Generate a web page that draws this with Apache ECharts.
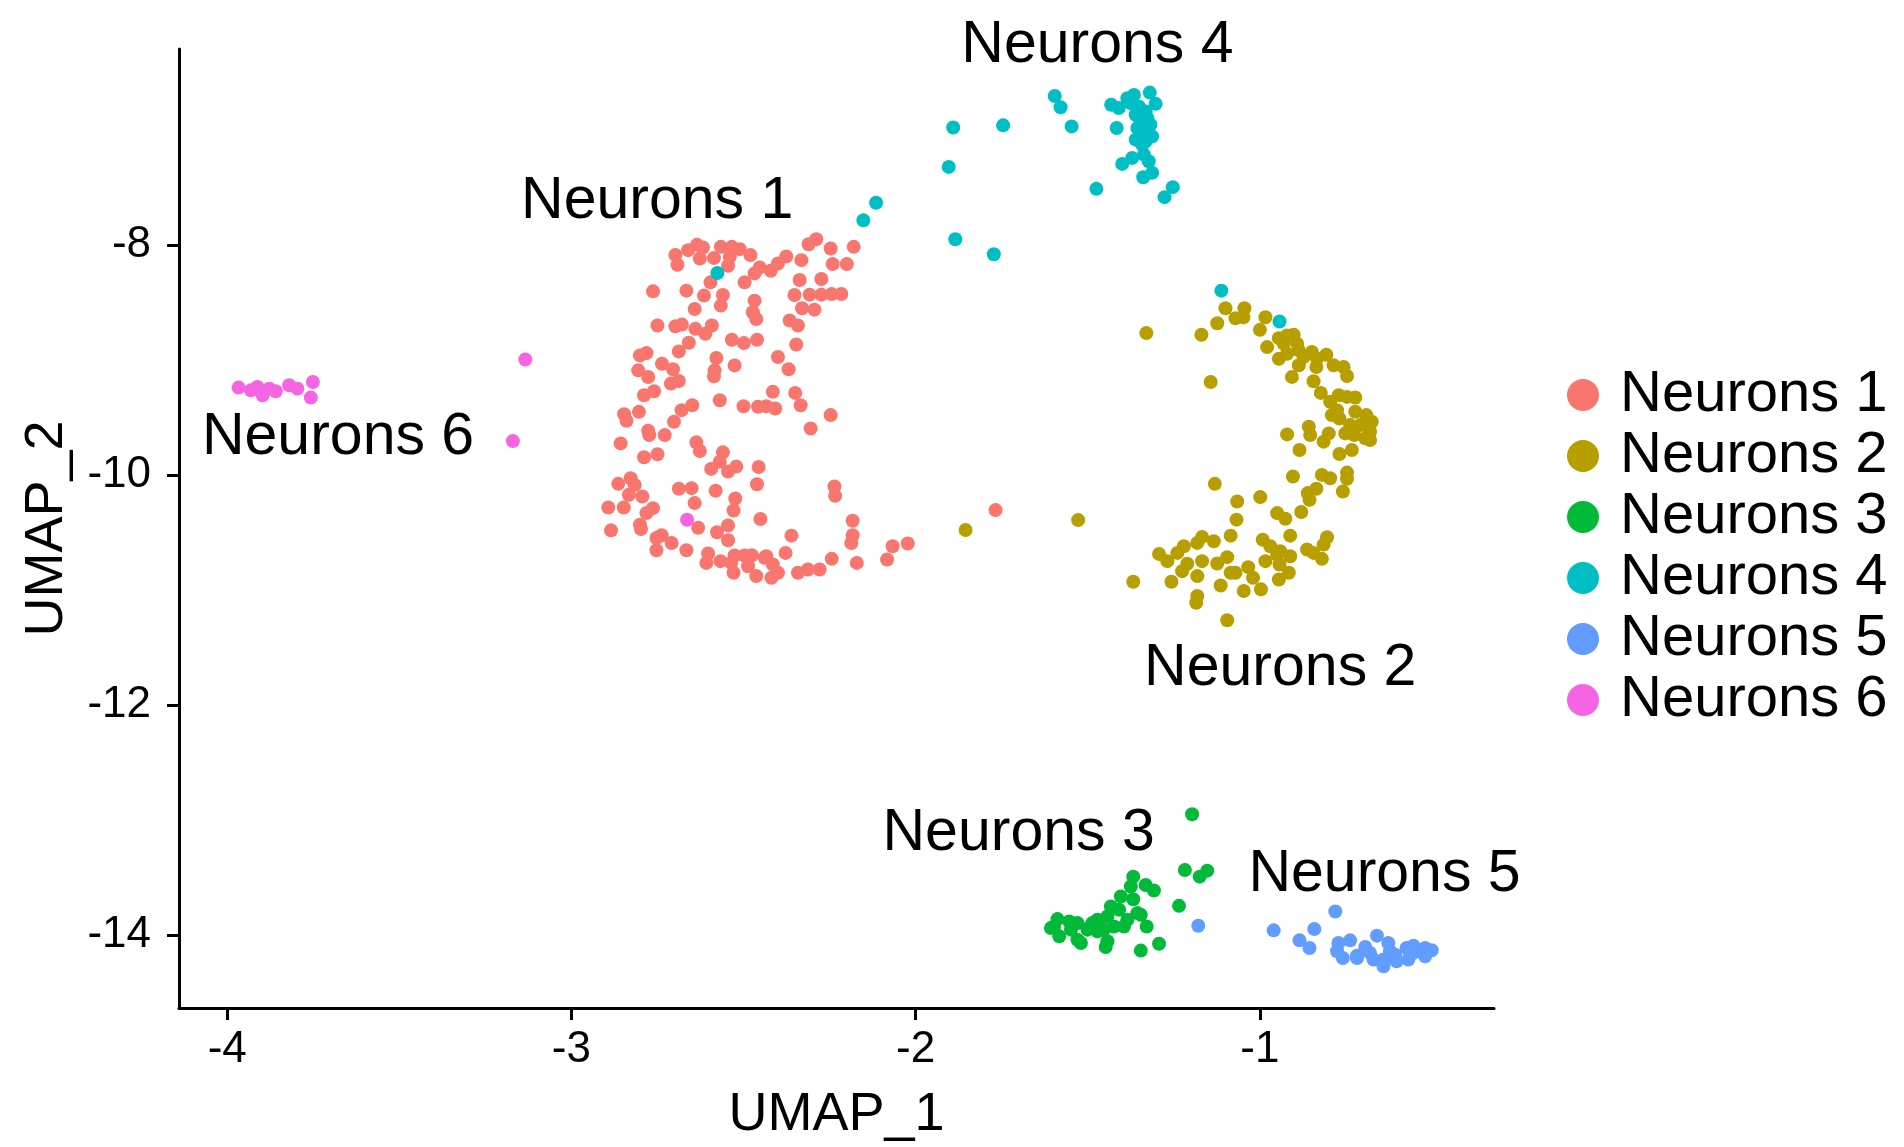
<!DOCTYPE html>
<html>
<head>
<meta charset="utf-8">
<script src="https://cdn.jsdelivr.net/npm/echarts@6/dist/echarts.min.js"></script>
<style>
  html, body { margin: 0; padding: 0; background: #ffffff; }
  #main { width: 1904px; height: 1147px; }
</style>
</head>
<body>
<div id="main"></div>
<script>
// Cluster names and ggplot-style hue palette
const clusterNames = ['Neurons 1', 'Neurons 2', 'Neurons 3', 'Neurons 4', 'Neurons 5', 'Neurons 6'];
const clusterColors = ['#F8766D', '#B79F00', '#00BA38', '#00BFC4', '#619CFF', '#F564E3'];

// UMAP embedding per cluster: [UMAP_1, UMAP_2]
const neurons1 = [
  [-2.698,-8.084],[-2.692,-8.170],[-2.661,-8.043],[-2.635,-7.997],[-2.618,-8.020],[-2.627,-8.115],[-2.586,-8.112],[-2.566,-8.014],
  [-2.534,-8.014],[-2.511,-8.034],[-2.540,-8.101],[-2.545,-8.179],[-2.480,-8.086],[-2.497,-8.323],[-2.468,-8.245],[-2.453,-8.193],
  [-2.596,-8.323],[-2.560,-8.433],[-2.566,-8.525],[-2.615,-8.438],[-2.642,-8.554],[-2.666,-8.395],[-2.763,-8.401],[-2.750,-8.698],
  [-2.698,-8.704],[-2.679,-8.690],[-2.640,-8.727],[-2.611,-8.770],[-2.592,-8.698],[-2.659,-8.848],[-2.688,-8.923],[-2.534,-8.822],
  [-2.499,-8.851],[-2.461,-8.822],[-2.468,-8.482],[-2.473,-8.583],[-2.463,-8.641],[-2.801,-8.958],[-2.782,-8.938],[-2.806,-9.088],
  [-2.777,-9.146],[-2.737,-9.030],[-2.705,-9.079],[-2.711,-9.203],[-2.688,-9.180],[-2.579,-8.981],[-2.526,-9.045],[-2.584,-9.088],
  [-2.586,-9.140],[-2.789,-9.304],[-2.760,-9.270],[-2.847,-9.469],[-2.840,-9.527],[-2.804,-9.449],[-2.702,-9.535],[-2.680,-9.434],
  [-2.649,-9.391],[-2.569,-9.348],[-2.500,-9.400],[-2.458,-9.405],[-2.434,-9.400],[-2.777,-9.613],[-2.774,-9.651],[-2.729,-9.651],
  [-2.857,-9.723],[-2.637,-9.714],[-2.627,-9.789],[-2.789,-9.844],[-2.750,-9.818],[-2.560,-9.801],[-2.569,-9.882],[-2.594,-9.945],
  [-2.545,-9.968],[-2.521,-9.925],[-2.456,-9.928],[-2.864,-10.075],[-2.828,-10.026],[-2.816,-10.084],[-2.833,-10.170],[-2.794,-10.185],
  [-2.688,-10.118],[-2.651,-10.112],[-2.581,-10.135],[-2.461,-10.078],[-2.642,-10.242],[-2.524,-10.202],[-2.529,-10.306],[-2.893,-10.280],
  [-2.848,-10.280],[-2.782,-10.329],[-2.763,-10.286],[-2.801,-10.430],[-2.798,-10.467],[-2.885,-10.479],[-2.632,-10.456],[-2.577,-10.496],
  [-2.545,-10.436],[-2.545,-10.565],[-2.451,-10.381],[-2.753,-10.545],[-2.738,-10.522],[-2.709,-10.589],[-2.753,-10.652],[-2.666,-10.652],
  [-2.603,-10.681],[-2.608,-10.762],[-2.567,-10.747],[-2.536,-10.762],[-2.526,-10.698],[-2.497,-10.698],[-2.476,-10.695],[-2.529,-10.848],
  [-2.487,-10.791],[-2.463,-10.877],[-2.439,-10.718],
  [-2.311,-7.991],[-2.289,-7.948],[-2.247,-8.029],[-2.180,-8.014],[-2.332,-8.130],[-2.376,-8.098],[-2.400,-8.159],[-2.421,-8.222],
  [-2.241,-8.164],[-2.200,-8.164],[-2.337,-8.303],[-2.274,-8.294],[-2.352,-8.433],[-2.308,-8.430],[-2.274,-8.430],[-2.244,-8.424],
  [-2.216,-8.424],[-2.330,-8.548],[-2.294,-8.560],[-2.366,-8.655],[-2.342,-8.698],[-2.347,-8.863],[-2.400,-8.972],[-2.369,-9.079],
  [-2.415,-9.275],[-2.350,-9.284],[-2.334,-9.391],[-2.408,-9.420],[-2.247,-9.477],[-2.305,-9.593],[-2.236,-10.098],[-2.234,-10.179],
  [-2.183,-10.395],[-2.183,-10.522],[-2.187,-10.589],[-2.361,-10.525],[-2.378,-10.675],[-2.434,-10.704],[-2.415,-10.776],[-2.400,-10.848],
  [-2.419,-10.892],[-2.342,-10.848],[-2.313,-10.819],[-2.279,-10.819],[-2.244,-10.727],[-2.171,-10.762],[-2.083,-10.733],[-2.067,-10.617],
  [-2.023,-10.594],[-1.768,-10.303]
];

const neurons2 = [
  [-1.100,-8.548],[-1.045,-8.548],[-1.071,-8.635],[-1.048,-8.626],[-1.124,-8.678],[-0.984,-8.626],[-1.000,-8.736],[-1.170,-8.779],
  [-1.330,-8.764],[-0.979,-8.886],[-0.945,-8.808],[-0.921,-8.785],[-0.902,-8.779],[-0.931,-8.857],[-0.892,-8.857],[-0.945,-8.987],
  [-0.921,-8.943],[-0.887,-8.914],[-0.873,-8.972],[-0.849,-8.929],[-0.834,-8.987],[-0.807,-8.952],[-0.887,-9.044],[-0.836,-9.059],
  [-0.786,-9.044],[-0.757,-9.059],[-0.747,-9.137],[-0.907,-9.145],[-0.844,-9.183],[-1.143,-9.189],[-0.823,-9.284],[-0.796,-9.362],
  [-0.771,-9.304],[-0.747,-9.319],[-0.723,-9.324],[-0.776,-9.434],[-0.791,-9.477],[-0.769,-9.506],[-0.723,-9.448],[-0.691,-9.477],
  [-0.675,-9.535],[-0.738,-9.564],[-0.709,-9.564],[-0.680,-9.622],[-0.694,-9.679],[-0.752,-9.636],[-0.726,-9.650],[-0.733,-9.780],
  [-0.769,-9.815],[-0.858,-9.578],[-0.854,-9.650],[-0.815,-9.708],[-0.800,-9.636],[-0.921,-9.645],[-0.885,-9.780],[-0.680,-9.694],
  [-0.904,-10.011],[-0.820,-9.997],[-0.796,-10.026],[-0.747,-9.977],[-0.747,-10.031],[-0.759,-10.141],[-0.861,-10.155],[-0.836,-10.118],
  [-0.856,-10.213],[-1.131,-10.075],[-1.066,-10.228],[-0.999,-10.190],[-0.880,-10.320],[-0.950,-10.329],[-0.926,-10.378],[-1.068,-10.386],
  [-1.085,-10.525],[-0.912,-10.525],[-0.992,-10.560],[-0.970,-10.617],[-0.941,-10.661],[-0.805,-10.539],[-0.815,-10.603],[-0.863,-10.646],
  [-0.844,-10.675],[-0.820,-10.727],[-0.912,-10.704],[-0.950,-10.689],[-0.984,-10.747],[-0.943,-10.776],[-1.095,-10.712],[-1.124,-10.767],
  [-1.168,-10.536],[-1.182,-10.588],[-1.134,-10.574],[-1.221,-10.617],[-1.240,-10.675],[-1.293,-10.684],[-1.269,-10.747],[-1.211,-10.770],
  [-1.168,-10.747],[-1.226,-10.834],[-1.182,-10.877],[-1.257,-10.926],[-1.368,-10.926],[-1.114,-10.958],[-1.085,-10.848],[-1.071,-10.848],
  [-1.034,-10.799],[-1.020,-10.891],[-1.047,-11.007],[-0.997,-10.992],[-0.945,-10.906],[-0.916,-10.848],[-1.182,-11.050],[-1.185,-11.108],
  [-1.095,-11.261],[-1.855,-10.476],[-1.528,-10.390]
];

const neurons3 = [
  [-1.197,-12.947],[-1.218,-13.432],[-1.175,-13.490],[-1.153,-13.438],[-1.235,-13.744],[-1.368,-13.490],[-1.375,-13.576],[-1.332,-13.562],
  [-1.308,-13.611],[-1.404,-13.663],[-1.368,-13.686],[-1.433,-13.749],[-1.409,-13.778],[-1.356,-13.807],[-1.346,-13.822],[-1.329,-13.923],
  [-1.293,-14.073],[-1.346,-14.133],[-1.443,-14.052],[-1.448,-14.101],[-1.424,-13.923],[-1.472,-13.966],[-1.501,-13.951],[-1.530,-13.894],
  [-1.554,-13.879],[-1.588,-13.859],[-1.598,-13.923],[-1.583,-14.009],[-1.530,-14.038],[-1.520,-14.067],[-1.496,-13.937],[-1.472,-13.865],
  [-1.443,-13.836],[-1.385,-13.865],[-1.395,-13.923],[-1.607,-13.937],[-1.549,-13.951],[-1.453,-13.951],[-1.487,-13.894]
];

const neurons4 = [
  [-1.596,-6.702],[-1.579,-6.800],[-1.547,-6.967],[-1.416,-6.981],[-1.432,-6.779],[-1.410,-6.808],[-1.385,-6.722],[-1.366,-6.693],
  [-1.320,-6.673],[-1.303,-6.771],[-1.332,-6.837],[-1.361,-6.866],[-1.356,-6.981],[-1.318,-6.953],[-1.337,-7.025],[-1.313,-7.054],
  [-1.361,-7.082],[-1.342,-7.126],[-1.337,-7.212],[-1.371,-7.241],[-1.400,-7.293],[-1.323,-7.270],[-1.313,-7.371],[-1.339,-7.409],
  [-1.475,-7.510],[-1.253,-7.495],[-1.277,-7.582],[-1.376,-6.765],[-1.352,-6.794],[-1.327,-6.895],[-1.347,-6.938],[-1.332,-7.097],
  [-1.891,-6.976],[-1.746,-6.958],[-1.904,-7.319],[-2.115,-7.631],[-2.152,-7.784],[-1.885,-7.948],[-1.773,-8.078],
  [-2.576,-8.242],[-1.112,-8.395],[-0.943,-8.663]
];

const neurons5 = [
  [-1.179,-13.917],[-0.781,-13.793],[-0.960,-13.957],[-0.842,-13.946],[-0.885,-14.044],[-0.856,-14.110],[-0.772,-14.067],[-0.738,-14.044],
  [-0.776,-14.139],[-0.759,-14.197],[-0.718,-14.177],[-0.694,-14.101],[-0.660,-14.003],[-0.627,-14.067],[-0.680,-14.153],[-0.641,-14.211],
  [-0.607,-14.168],[-0.574,-14.110],[-0.554,-14.090],[-0.520,-14.110],[-0.501,-14.130],[-0.520,-14.182],[-0.569,-14.211],[-0.603,-14.226],
  [-0.641,-14.269],[-0.670,-14.211],[-0.718,-14.197],[-0.554,-14.153],[-0.622,-14.139]
];

const neurons6 = [
  [-3.967,-9.238],[-3.931,-9.261],[-3.912,-9.232],[-3.897,-9.305],[-3.878,-9.247],[-3.859,-9.270],[-3.820,-9.218],[-3.796,-9.247],
  [-3.751,-9.189],[-3.757,-9.325],[-3.134,-8.993],[-3.170,-9.703],[-2.664,-10.387]
];

// Where each cluster's name is written (UMAP coordinates)
const clusterLabelPos = [
  [-2.751, -7.584],
  [-0.941, -11.645],
  [-1.701, -13.082],
  [-1.472, -6.234],
  [-0.638, -13.437],
  [-3.678, -9.636]
];

const xTicks = [-4, -3, -2, -1];
const yTicks = [-14, -12, -10, -8];

const clusterData = [neurons1, neurons2, neurons3, neurons4, neurons5, neurons6];
const FONT = "'Liberation Sans', Arial, Helvetica, sans-serif";

const chart = echarts.init(document.getElementById('main'), null, { renderer: 'canvas' });

const option = {
  animation: false,
  backgroundColor: '#ffffff',
  textStyle: { fontFamily: FONT },
  grid: { left: 179, right: 410, top: 49, bottom: 135, containLabel: false },
  xAxis: {
    type: 'value',
    min: -4.14,
    max: -0.32,
    name: 'UMAP_1',
    nameLocation: 'middle',
    nameGap: 80,
    nameTextStyle: { fontSize: 54, color: '#000', fontFamily: FONT },
    axisLine: { show: true, onZero: false, lineStyle: { color: '#000', width: 3 } },
    axisTick: { show: true, customValues: xTicks, length: 12, lineStyle: { color: '#000', width: 3 } },
    axisLabel: { customValues: xTicks, fontSize: 44, color: '#000', margin: 20, fontFamily: FONT },
    splitLine: { show: false }
  },
  yAxis: {
    type: 'value',
    min: -14.632,
    max: -6.294,
    name: 'UMAP_2',
    nameLocation: 'middle',
    nameGap: 105,
    nameTextStyle: { fontSize: 54, color: '#000', fontFamily: FONT },
    axisLine: { show: true, onZero: false, lineStyle: { color: '#000', width: 3 } },
    axisTick: { show: true, customValues: yTicks, length: 12, lineStyle: { color: '#000', width: 3 } },
    axisLabel: { customValues: yTicks, fontSize: 44, color: '#000', margin: 28, fontFamily: FONT },
    splitLine: { show: false }
  },
  legend: {
    orient: 'vertical',
    left: 1562,
    top: 361,
    icon: 'circle',
    itemWidth: 64,
    itemHeight: 32,
    itemGap: 3,
    data: clusterNames,
    textStyle: { fontSize: 58, color: '#000', fontFamily: FONT }
  },
  series: clusterNames.map((name, i) => ({
    name: name,
    type: 'scatter',
    symbol: 'circle',
    symbolSize: 14,
    itemStyle: { color: clusterColors[i], opacity: 1 },
    emphasis: { disabled: true },
    data: clusterData[i]
  }))
};

chart.setOption(option);

// Cluster name labels, placed through the grid's coordinate system
const labelGraphics = clusterNames.map((name, i) => {
  const p = chart.convertToPixel({ gridIndex: 0 }, clusterLabelPos[i]);
  return {
    type: 'text',
    x: p[0],
    y: p[1] + 4,
    z: 100,
    style: {
      text: name,
      fontSize: 59,
      fontFamily: FONT,
      fill: '#000',
      align: 'center',
      verticalAlign: 'middle'
    }
  };
});
chart.setOption({ graphic: labelGraphics });
</script>
</body>
</html>
